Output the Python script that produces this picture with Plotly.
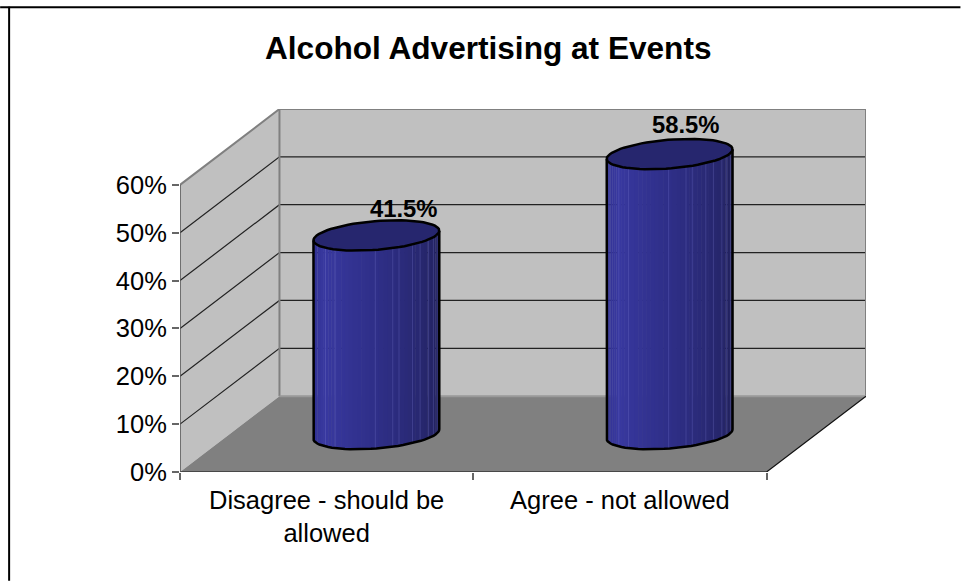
import numpy as np
import plotly.graph_objects as go

W, H = 961, 581
L, R, T, B = 180.0, 866.5, 108.5, 472.0

title = "Alcohol Advertising at Events"
categories = ["Disagree - should be<br>allowed", "Agree - not allowed"]
values = [41.5, 58.5]
value_labels = ["41.5%", "58.5%"]
y_ticks = [0, 10, 20, 30, 40, 50, 60]
y_tick_labels = ["0%", "10%", "20%", "30%", "40%", "50%", "60%"]

PX_X = (766.7 - L) / 2
PX_Y = (B - 184.3) / 60
DX = 99.5 / PX_X   # depth vector in data units
DY = 76.0 / PX_Y
XMAX = 2 + DX
YMAX = 60 + DY


def proj(x, y, d):
    return x + d * DX, y + d * DY


fig = go.Figure()


def poly(xs, ys, color):
    fig.add_trace(go.Scatter(x=xs, y=ys, mode="lines", fill="toself", fillcolor=color,
                             line=dict(width=0, color=color), hoverinfo="skip", showlegend=False))


def line(xs, ys, color, width=1):
    fig.add_trace(go.Scatter(x=xs, y=ys, mode="lines", line=dict(color=color, width=width),
                             hoverinfo="skip", showlegend=False, cliponaxis=False))


# walls and floor
poly([0, DX, DX, 0, 0], [0, DY, YMAX, 60, 0], "#c0c0c0")
poly([DX, XMAX, XMAX, DX, DX], [DY, DY, YMAX, YMAX, DY], "#c0c0c0")
poly([0, 2, XMAX, DX, 0], [0, 0, DY, DY, 0], "#808080")

# gridlines
for v in y_ticks[1:-1]:
    line([0, DX, XMAX], [v, v + DY, v + DY], "#222222", 1.2)
line([0, DX, XMAX, XMAX], [60, YMAX, YMAX, DY], "#808080", 2)
line([DX, DX], [YMAX, DY], "#808080", 2)
line([DX, XMAX], [DY, DY], "#999999", 2)
line([0, 2, XMAX], [0, 0, DY], "#111111", 1.2)
line([0, 0], [0, 60], "#555555", 1.5)

# cylinders
RX = 59.7 / PX_X
RD = 0.2
T0 = np.degrees(np.arctan2(20, 59.7))
facet_edges = T0 + 180 + np.linspace(0, 180, 46)
highlights = T0 + 180 + np.array([36, 49, 89, 105, 111, 125, 134, 146, 155, 165])
F = np.array([0, 0.2, 0.5, 0.75, 1.0])
C = np.array([[0x30, 0x30, 0x90], [0x39, 0x39, 0xA0], [0x2F, 0x2F, 0x88], [0x28, 0x28, 0x70], [0x20, 0x20, 0x58]])


def ring(cx, h, deg):
    t = np.radians(deg)
    d = 0.5 + RD * np.sin(t)
    return proj(cx + RX * np.cos(t), h, d)


def shade(f):
    c = [np.interp(f, F, C[:, k]) for k in range(3)]
    return "rgb(%d,%d,%d)" % tuple(c)


for i, v in enumerate(values):
    cx = i + 0.5
    for a, b in zip(facet_edges[:-1], facet_edges[1:]):
        arc = np.array([a, (a + b) / 2, b + 0.6])
        x0, y0 = ring(cx, 0, arc)
        x1, y1 = ring(cx, v, arc[::-1])
        poly(np.r_[x0, x1, x0[0]], np.r_[y0, y1, y0[0]], shade(((a + b) / 2 - T0 - 180) / 180))
    for b in highlights:
        xs, ys = ring(cx, 0, np.array([b]))
        xt, yt = ring(cx, v, np.array([b]))
        line([xs[0], xt[0]], [ys[0], yt[0]], "rgba(130,130,220,0.25)", 1)
    full = np.linspace(0, 360, 73)
    xt, yt = ring(cx, v, full)
    poly(xt, yt, "#26266E")
    line(xt, yt, "#000000", 2.5)
    lx, ly = ring(cx, v, np.array([T0 + 180]))
    lx0, ly0 = ring(cx, 0, np.linspace(T0 + 180, T0 + 360, 37))
    rx, ry = ring(cx, v, np.array([T0 + 360]))
    line(np.r_[lx, lx0, rx], np.r_[ly, ly0, ry], "#000000", 2.5)

# value labels
label_shift = [(27.5, 27), (15.5, 29.5)]
annos = []
for i, v in enumerate(values):
    px_, py_ = proj(i + 0.5, v, 0.5)
    annos.append(dict(x=px_, y=py_, text="<b>%s</b>" % value_labels[i], showarrow=False,
                      xshift=label_shift[i][0], yshift=label_shift[i][1], yanchor="middle",
                      font=dict(size=23.8, color="#000000", family="Liberation Sans")))


def px(xv):
    return (xv - L) / (R - L)


def py(yv):
    return (B - yv) / (B - T)


annos.append(dict(xref="paper", yref="paper", x=px(488.5), y=py(47), xanchor="center", yanchor="middle",
                  text="<b>%s</b>" % title,
                  showarrow=False, font=dict(size=31.6, color="#000000", family="Liberation Sans")))

shapes = [
    dict(type="line", xref="paper", yref="paper", x0=px(0), x1=px(961), y0=py(6.5), y1=py(6.5),
         line=dict(color="#000000", width=2)),
    dict(type="line", xref="paper", yref="paper", x0=px(9), x1=px(9), y0=py(6), y1=py(581),
         line=dict(color="#000000", width=2)),
]

fig.update_layout(
    width=W, height=H, autosize=False,
    margin=dict(l=L, r=W - R, t=T, b=H - B, pad=0),
    paper_bgcolor="#ffffff", plot_bgcolor="#ffffff", showlegend=False,
    font=dict(family="Liberation Sans", color="#000000"),
    annotations=annos, shapes=shapes,
    xaxis=dict(range=[0, XMAX], showgrid=False, zeroline=False, showline=False,
               tickmode="array", tickvals=[0.5, 1.5], ticktext=categories, ticks="",
               tickfont=dict(size=25.5), tickangle=0, ticklabelstandoff=10,
               minor=dict(tickmode="array", tickvals=[0, 1, 2], ticks="outside", ticklen=7,
                          tickwidth=1.5, tickcolor="#666666")),
    yaxis=dict(range=[0, YMAX], showgrid=False, zeroline=False, showline=False,
               tickmode="array", tickvals=y_ticks, ticktext=y_tick_labels, ticks="outside",
               ticklen=7, tickwidth=1.5, tickcolor="#666666", tickfont=dict(size=25.5)),
)
fig.write_html("out.html", config=dict(displayModeBar=False),
               post_script="document.body.style.margin='0';document.body.style.overflow='hidden';")
